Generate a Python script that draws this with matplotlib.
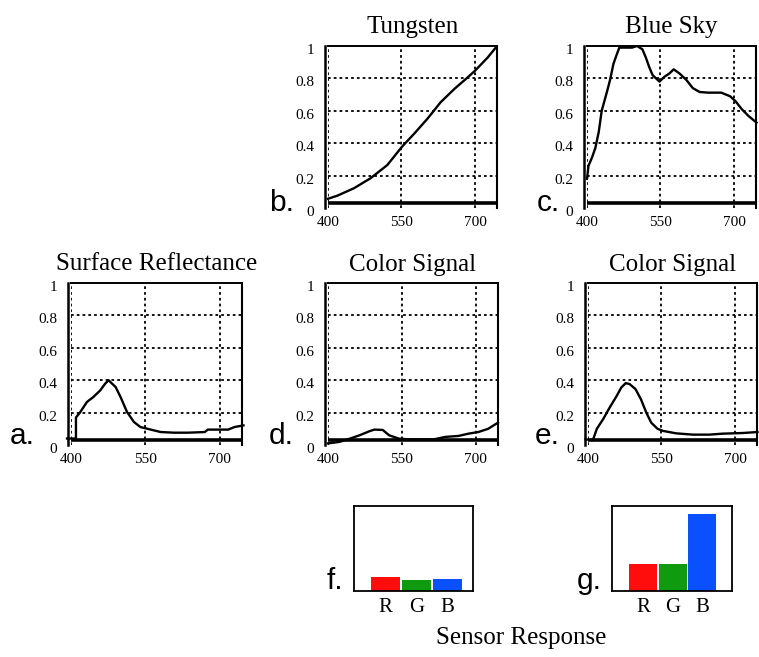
import numpy as np
import matplotlib.pyplot as plt
from matplotlib.transforms import ScaledTranslation

plt.rcParams['font.family'] = ['Liberation Serif', 'DejaVu Serif']

# Spectral curves (wavelength in nm, relative power 0..1)
wl_tungsten = [400, 419, 453, 487, 521, 551, 576, 603, 630, 658, 685, 700, 726, 744]
tungsten = [0.057, 0.076, 0.122, 0.184, 0.265, 0.378, 0.459, 0.551, 0.653, 0.735,
            0.806, 0.847, 0.929, 0.996]

wl_sky = [400, 403, 410, 417, 424, 430, 441, 447, 454, 461, 466, 475, 492, 502, 513,
          520, 527, 534, 548, 558, 568, 577, 589, 603, 616, 630, 647, 674, 692, 703,
          716, 729, 746]
sky = [0.18, 0.26, 0.31, 0.37, 0.47, 0.60, 0.72, 0.79, 0.89, 0.95, 0.99, 0.99, 0.99,
       1.0, 0.98, 0.93, 0.87, 0.82, 0.78, 0.81, 0.83, 0.856, 0.83, 0.79, 0.74, 0.716,
       0.712, 0.712, 0.69, 0.66, 0.61, 0.57, 0.527]

wl_surface = [392, 410, 410, 418, 432, 445, 459, 469, 476, 479, 490, 500, 513, 527,
              540, 561, 581, 608, 636, 670, 676, 717, 730, 748]
surface = [0.04, 0.04, 0.17, 0.20, 0.265, 0.296, 0.337, 0.379, 0.40, 0.39, 0.358,
           0.296, 0.204, 0.142, 0.111, 0.095, 0.080, 0.076, 0.076, 0.080, 0.095,
           0.095, 0.111, 0.121]

wl_signal_tungsten = [400, 423, 444, 464, 484, 494, 511, 524, 544, 564, 615, 638,
                      665, 685, 705, 725, 745]
signal_tungsten = [0.01, 0.019, 0.039, 0.06, 0.085, 0.095, 0.093, 0.06, 0.039,
                   0.035, 0.035, 0.05, 0.056, 0.07, 0.08, 0.10, 0.138]

wl_signal_sky = [395, 410, 418, 431, 444, 458, 468, 477, 485, 497, 508, 519, 529,
                 542, 553, 580, 614, 648, 675, 716, 746]
signal_sky = [0.035, 0.03, 0.10, 0.16, 0.23, 0.30, 0.355, 0.382, 0.376, 0.345,
              0.283, 0.20, 0.138, 0.10, 0.087, 0.072, 0.064, 0.064, 0.07, 0.074, 0.08]

# Sensor responses
channels = ['R', 'G', 'B']
channel_colors = ['#ff0d0d', '#0f9a0f', '#0a50ff']
resp_tungsten = [0.16, 0.125, 0.14]
resp_sky = [0.32, 0.32, 0.905]

W, H = 759, 657
fig = plt.figure(figsize=(W / 100, H / 100), dpi=100)


def axes_px(x0, y0, x1, y1):
    return fig.add_axes([x0 / W, 1 - y1 / H, (x1 - x0) / W, (y1 - y0) / H])


def spectrum(ax, wl, vals, title):
    dots = (0, (1.5, 1.7))
    ax.set_xlim(400, 745)
    ax.set_ylim(0, 1)
    for x in (400, 550, 700):
        ax.axvline(x, color='k', lw=1.3, ls=dots, zorder=1)
    for y in (0.2, 0.4, 0.6, 0.8):
        ax.axhline(y, color='k', lw=1.3, ls=dots, zorder=1)
    ax.axhline(0.033, color='k', lw=2.6, zorder=3)
    ax.plot(wl, vals, color='k', lw=1.7, zorder=4, clip_on=False)
    ax.spines['bottom'].set_visible(False)
    ax.spines['left'].set_position(('outward', 2))
    ax.spines['left'].set_linewidth(1.8)
    ax.spines['top'].set_linewidth(1.4)
    ax.spines['right'].set_linewidth(1.5)
    ax.set_xticks([400, 550, 700])
    ax.set_yticks([0, 0.2, 0.4, 0.6, 0.8, 1])
    ax.set_yticklabels(['0', '0.2', '0.4', '0.6', '0.8', '1'])
    ax.tick_params(length=0, labelsize=11)
    ax.tick_params(axis='y', pad=8)
    ax.tick_params(axis='x', pad=6)
    shift = ScaledTranslation(0, -0.03, fig.dpi_scale_trans)
    for lab in ax.get_yticklabels():
        lab.set_transform(lab.get_transform() + shift)
    ax.set_title(title, fontsize=18, pad=9)


def response(ax, vals, xlim):
    ax.bar(range(3), vals, width=0.94, color=channel_colors)
    ax.set_xlim(*xlim)
    ax.set_ylim(0, 1)
    ax.set_yticks([])
    ax.set_xticks(range(3))
    ax.set_xticklabels(channels)
    ax.tick_params(length=0, labelsize=15, pad=5)
    for s in ax.spines.values():
        s.set_linewidth(1.3)


ax_b = axes_px(328, 46, 497, 208)
spectrum(ax_b, wl_tungsten, tungsten, 'Tungsten')
ax_c = axes_px(587, 46, 756, 208)
spectrum(ax_c, wl_sky, sky, 'Blue Sky')
ax_a = axes_px(71, 283, 242, 445)
spectrum(ax_a, wl_surface, surface, 'Surface Reflectance')
ax_d = axes_px(328, 283, 498, 445)
spectrum(ax_d, wl_signal_tungsten, signal_tungsten, 'Color Signal')
ax_e = axes_px(588, 283, 757, 445)
spectrum(ax_e, wl_signal_sky, signal_sky, 'Color Signal')

ax_f = axes_px(354, 506, 473, 591)
response(ax_f, resp_tungsten, (-1.02, 2.82))
ax_g = axes_px(612, 506, 732, 591)
response(ax_g, resp_sky, (-1.05, 3.0))

# panel letters
letters = [('a.', 35, 444), ('b.', 294, 211), ('c.', 560, 211), ('d.', 294, 444),
           ('e.', 560, 444), ('f.', 343, 589), ('g.', 602, 589)]
for txt, x, y in letters:
    fig.text(x / W, 1 - y / H, txt, ha='right', va='baseline', fontsize=21.5,
             family='Liberation Sans')

fig.text(521 / W, 1 - 644 / H, 'Sensor Response', ha='center', va='baseline',
         fontsize=18)

fig.savefig('out.png', dpi=100)
